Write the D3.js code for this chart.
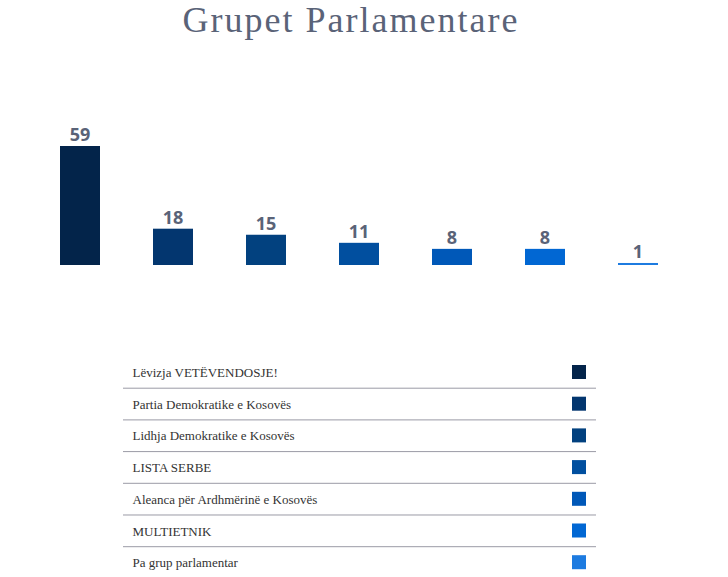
<!DOCTYPE html>
<html>
<head>
<meta charset="utf-8">
<script src="https://cdn.jsdelivr.net/npm/d3@7"></script>
<style>
  body { margin: 0; background: #fff; }
</style>
</head>
<body>
<div id="chart"></div>
<script>
const parties = [
  "Lëvizja VETËVENDOSJE!",
  "Partia Demokratike e Kosovës",
  "Lidhja Demokratike e Kosovës",
  "LISTA SERBE",
  "Aleanca për Ardhmërinë e Kosovës",
  "MULTIETNIK",
  "Pa grup parlamentar"
];
const seats = [59, 18, 15, 11, 8, 8, 1];
const colors = ["#03244a", "#03366f", "#02417f", "#014f9f", "#0058b8", "#0167d3", "#1d7be0"];

const width = 728;
const height = 577;

const svg = d3.select("#chart")
    .append("svg")
    .attr("width", width)
    .attr("height", height);

// Title
svg.append("text")
    .attr("x", 351)
    .attr("y", 32)
    .attr("text-anchor", "middle")
    .attr("font-family", "Liberation Serif, serif")
    .attr("font-size", 36)
    .attr("letter-spacing", 2)
    .attr("fill", "#5a6378")
    .text("Grupet Parlamentare");

// Bars
const x = d3.scaleBand()
    .domain(parties)
    .range([33.5, 684.5])
    .paddingInner(0.57)
    .paddingOuter(0.285);

const y = d3.scaleLinear()
    .domain([0, d3.max(seats)])
    .range([265, 146]);

svg.selectAll(".bar")
    .data(parties)
    .enter()
    .append("rect")
    .attr("class", "bar")
    .attr("x", d => x(d))
    .attr("y", (d, i) => y(seats[i]))
    .attr("width", x.bandwidth())
    .attr("height", (d, i) => y(0) - y(seats[i]))
    .attr("fill", (d, i) => colors[i]);

svg.selectAll(".label")
    .data(parties)
    .enter()
    .append("text")
    .attr("class", "label")
    .attr("x", d => x(d) + x.bandwidth() / 2)
    .attr("y", (d, i) => y(seats[i]) - 5)
    .attr("text-anchor", "middle")
    .attr("font-family", "Open Sans, sans-serif")
    .attr("font-weight", "bold")
    .attr("font-size", 18)
    .attr("fill", "#5a6378")
    .text((d, i) => seats[i]);

// Legend table
const row = d3.scaleBand()
    .domain(parties)
    .range([356.5, 356.5 + 31.7 * parties.length]);

const rows = svg.selectAll(".row")
    .data(parties)
    .enter()
    .append("g")
    .attr("class", "row")
    .attr("transform", d => `translate(0,${row(d)})`);

rows.append("text")
    .attr("x", 132.5)
    .attr("y", 20.5)
    .attr("font-family", "Liberation Serif, serif")
    .attr("font-size", 13)
    .attr("fill", "#333")
    .text(d => d);

rows.append("rect")
    .attr("x", 572)
    .attr("y", 8.5)
    .attr("width", 14)
    .attr("height", 14)
    .attr("fill", (d, i) => colors[i]);

rows.filter((d, i) => i < parties.length - 1)
    .append("line")
    .attr("x1", 123)
    .attr("x2", 596)
    .attr("y1", row.bandwidth())
    .attr("y2", row.bandwidth())
    .attr("stroke", "#9a9aa5")
    .attr("stroke-width", 1);
</script>
</body>
</html>
